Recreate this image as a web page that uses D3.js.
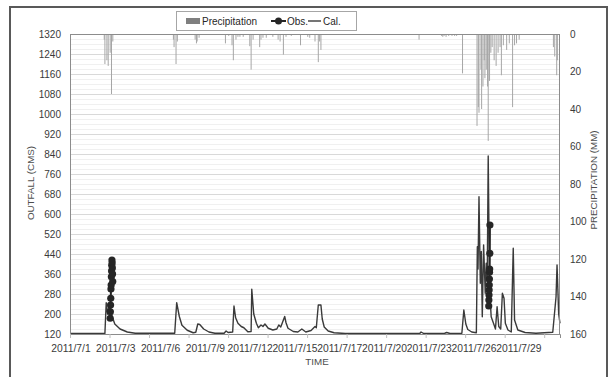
<!DOCTYPE html>
<html><head><meta charset="utf-8">
<script src="https://cdn.jsdelivr.net/npm/d3@7"></script>
<style>
html,body{margin:0;padding:0;background:#fff;}
svg{display:block;font-family:"Liberation Sans",Arial,sans-serif;}
</style></head>
<body>
<svg id="chart" width="615" height="377"></svg>
<script>
// ---------- data ----------
const xLabels = ["2011/7/1","2011/7/3","2011/7/6","2011/7/9","2011/7/12","2011/7/15","2011/7/17","2011/7/20","2011/7/23","2011/7/26","2011/7/29"];
const totalHours = 744;          // hourly series, 2011/7/1 .. 2011/7/31
const labelEvery = 68;           // hours between category labels
const tickEvery = 60;            // hours between tick marks
const leftTicks = [120,200,280,360,440,520,600,680,760,840,920,1000,1080,1160,1240,1320];
const rightTicks = [0,20,40,60,80,100,120,140,160];

// precipitation (hour index, mm)
const precipHours = [52,53,56,58,61,63,65,157,158,161,163,190,192,193,196,236,241,246,248,252,255,258,263,
  273,275,278,288,290,293,298,308,316,319,324,328,336,350,361,364,372,377,379,381,394,523,530,
  564,566,568,571,575,580,584,587,596,
  618,620,621,624,625,627,629,630,632,634,635,637,639,641,644,647,650,653,655,658,663,667,672,675,678,682,
  734,736,739,740];
const precipMM = [3,16,14,17,10,32,4,3,7,16,4,3,5,4,2,5,1,6,14,3,1.5,1.5,1.5,
  6.5,19,3,7,3,2,2,1.5,3,4,11,1.5,1,6,1.5,2,4,15,4,8.5,0.5,0.5,3,
  1,1.5,1,1.5,1,1,1,1,21,
  49,39,42,19,40,28,14,23.6,19,28,57,25,10,7,14,17,10,7,22,6,8.5,5,39,6,5,3,
  7,12,22,14];

// calibrated outfall (hour index, CMS)
const calHours = [0,53,55,57,59,61.5,64,68,76,87,99,159,162,166,170,178,187,191,194,197,203,211,220,234,237,240,
  247,249,251.5,255,260,264,270,275,276,279,283,286,290,293,296,301,308,314,317,320,326,328,331,339,346,352,358,
  366,372,374,377,381,383,386,392,401,418,531,533,537,569,572,577,595,598,601,604,610,617,
  618.5,619.5,621,623,624.5,626,628,630.5,632,633.5,635,637,639.5,643,646,648.5,651,654,656.5,659,661,665,670,
  673,675,680,691,707.5,733,738,739.5,742,744];
const calCMS = [122,122,245,200,230,215,190,160,140,128,123,123,245,190,155,135,125,127,160,158,140,128,123,123,132,126,
  128,232,185,163,150,145,129,130,299,200,163,145,156,150,160,143,136,140,156,148,190,165,143,130,128,140,128,
  134,150,145,236,236,180,148,132,125,122,122,128,122,123,126,122,123,216,160,138,128,125,
  469,380,669,323,450,189,476,283,403,330,832,309,189,163,140,229,150,140,283,263,163,136,128,
  463,176,136,126,123,127,269,396,200,163];

// observed outfall (hour index, CMS); null separates events
const obsHours = [61,61.3,61.6,61.9,62.2,62.5,62.8,63.1,63.4,63.7,64,64.3,64.6,64.9,null,
  635.8,636,636.2,636.4,636.6,636.8,637,637.2,637.4,637.6];
const obsCMS = [183,209,236,263,300,316,349,372,395,416,405,384,360,330,null,
  232,256,276,296,316,340,367,380,443,556];

// ---------- layout ----------
const svg = d3.select("#chart");
const L = 70, R = 560, T = 34, B = 334;
const x = d3.scaleLinear().domain([0,totalHours]).range([L,R]);
const yL = d3.scaleLinear().domain([120,1320]).range([B,T]);
const yR = d3.scaleLinear().domain([0,160]).range([T,B]);
const txt = "#3a3a3a";

// outer frame
svg.append("rect").attr("x",10).attr("y",7).attr("width",597).attr("height",390)
  .attr("fill","none").attr("stroke","#595959").attr("stroke-width",2);

// gridlines
const g = svg.append("g");
g.selectAll("line.minor").data(d3.range(120,1321,20)).join("line")
  .attr("x1",L).attr("x2",R).attr("y1",d=>yL(d)+0.5).attr("y2",d=>yL(d)+0.5)
  .attr("stroke","#f0f0f0").attr("stroke-width",1);
g.selectAll("line.major").data(leftTicks).join("line")
  .attr("x1",L).attr("x2",R).attr("y1",d=>Math.round(yL(d))+0.5).attr("y2",d=>Math.round(yL(d))+0.5)
  .attr("stroke","#d9d9d9").attr("stroke-width",1);

// precipitation bars (hanging from top)
const precip = precipHours.map((h,i)=>({h, p:precipMM[i]}));
svg.append("g").selectAll("rect").data(precip).join("rect")
  .attr("x",d=>x(d.h)-0.5).attr("width",1)
  .attr("y",T).attr("height",d=>yR(d.p)-T)
  .attr("fill","#a6a6a6");

// calibrated line
const cal = calHours.map((h,i)=>({h, v:calCMS[i]}));
svg.append("path").datum(cal)
  .attr("d", d3.line().x(d=>x(d.h)).y(d=>yL(d.v)))
  .attr("fill","none").attr("stroke","#3a3a3a").attr("stroke-width",1.4).attr("stroke-linejoin","round");

// observed
const obs = obsHours.map((h,i)=>({h, v:obsCMS[i]}));
svg.append("path").datum(obs)
  .attr("d", d3.line().defined(d=>d.h!==null).x(d=>x(d.h)).y(d=>yL(d.v)))
  .attr("fill","none").attr("stroke","#262626").attr("stroke-width",2);
svg.append("g").selectAll("circle").data(obs.filter(d=>d.h!==null)).join("circle")
  .attr("cx",d=>x(d.h)).attr("cy",d=>yL(d.v)).attr("r",3.6).attr("fill","#262626");

// plot border
svg.append("rect").attr("x",L+0.5).attr("y",T+0.5).attr("width",R-L-1).attr("height",B-T)
  .attr("fill","none").attr("stroke","#8c8c8c").attr("stroke-width",1);

// left axis
const la = svg.append("g").attr("transform",`translate(${L},0)`)
  .call(d3.axisLeft(yL).tickValues(leftTicks).tickSize(0).tickPadding(9).tickFormat(d3.format("d")));
la.select(".domain").remove();
la.selectAll("text").attr("fill",txt).style("font-size","10px").style("font-family","'Liberation Sans',Arial,sans-serif");

// right axis
const ra = svg.append("g").attr("transform",`translate(${R},0)`)
  .call(d3.axisRight(yR).tickValues(rightTicks).tickSize(0).tickPadding(10).tickFormat(d3.format("d")));
ra.select(".domain").remove();
ra.selectAll("text").attr("fill",txt).style("font-size","10px").style("font-family","'Liberation Sans',Arial,sans-serif");

// bottom axis: tick marks every tickEvery, labels every labelEvery
const ba = svg.append("g").attr("transform",`translate(0,${B})`)
  .call(d3.axisBottom(x).tickValues(d3.range(0,totalHours+1,tickEvery)).tickSize(4).tickFormat(""));
ba.select(".domain").attr("stroke","#8c8c8c");
ba.selectAll(".tick line").attr("stroke","#bfbfbf");
svg.append("g").selectAll("text").data(xLabels).join("text")
  .attr("x",(d,i)=>x(i*labelEvery)+1).attr("y",351.5)
  .attr("text-anchor","middle").attr("fill",txt).style("font-size","10.3px").text(d=>d);

// axis titles
svg.append("text").attr("x",317).attr("y",365).attr("text-anchor","middle")
  .attr("fill","#4d4d4d").style("font-size","9.8px").text("TIME");
svg.append("text").attr("transform","translate(34,183) rotate(-90)").attr("text-anchor","middle")
  .attr("fill","#4d4d4d").style("font-size","9.8px").text("OUTFALL (CMS)");
svg.append("text").attr("transform","translate(597,180) rotate(-90)").attr("text-anchor","middle")
  .attr("fill","#4d4d4d").style("font-size","9.8px").text("PRECIPITATION (MM)");

// legend
const lg = svg.append("g");
lg.append("rect").attr("x",176.5).attr("y",11.5).attr("width",180).attr("height",19)
  .attr("fill","#fff").attr("stroke","#a6a6a6");
lg.append("rect").attr("x",186).attr("y",18).attr("width",14).attr("height",6).attr("fill","#7f7f7f");
lg.append("text").attr("x",202).attr("y",25).attr("fill","#262626").style("font-size","10px").text("Precipitation");
lg.append("line").attr("x1",271).attr("x2",286).attr("y1",21).attr("y2",21).attr("stroke","#262626").attr("stroke-width",2);
lg.append("circle").attr("cx",278.5).attr("cy",21).attr("r",3.5).attr("fill","#262626");
lg.append("text").attr("x",287).attr("y",25).attr("fill","#262626").style("font-size","10px").text("Obs.");
lg.append("line").attr("x1",308).attr("x2",321).attr("y1",21).attr("y2",21).attr("stroke","#3a3a3a").attr("stroke-width",1.4);
lg.append("text").attr("x",323).attr("y",25).attr("fill","#262626").style("font-size","10px").text("Cal.");
</script>
</body></html>
